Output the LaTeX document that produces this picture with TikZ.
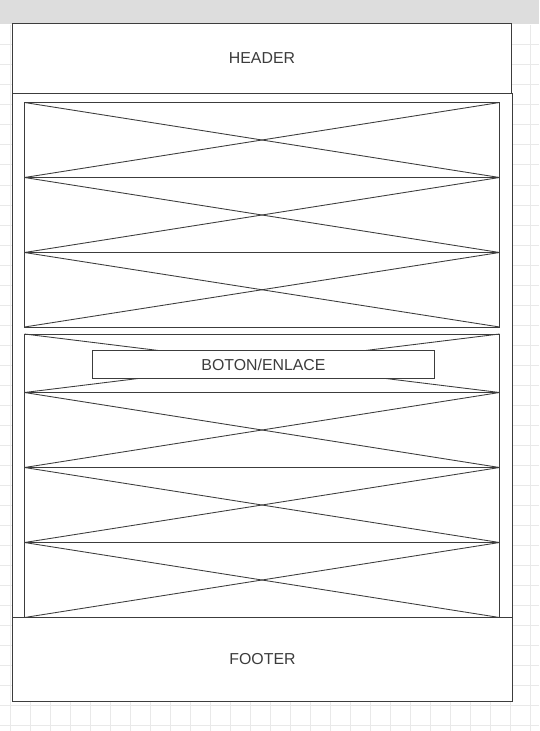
\documentclass[tikz,border=0pt]{standalone}
\usepackage{fontspec}
\setmainfont{Liberation Sans}
\usepackage{xcolor}
\definecolor{bargray}{HTML}{DDDDDD}
\definecolor{gridgray}{HTML}{E9E9E9}
\definecolor{inkgray}{HTML}{3C3C3C}
\tikzset{
  frame/.style={draw=inkgray, line width=0.75pt, fill=white},
  cross/.style={draw=inkgray, line width=0.65pt},
  gridline/.style={draw=gridgray, line width=0.75pt},
  label/.style={text=inkgray, font=\fontsize{11.9pt}{13pt}\selectfont, inner sep=0pt}
}
\begin{document}
\begin{tikzpicture}[x=0.75pt, y=-0.75pt]
\useasboundingbox (0,0) rectangle (539,731);
% background grid
\fill[white] (0,0) rectangle (539,731);
\foreach \gx in {10.7,30.7,...,539} \draw[gridline] (\gx,25) -- (\gx,731);
\foreach \gy in {45,65,...,731} \draw[gridline] (0,\gy) -- (539,\gy);
\fill[bargray] (0,0) rectangle (539,24.5);
% header and body
\draw[frame] (12.5,23.5) rectangle (511.5,93.5);
\draw[frame] (12.5,93.5) rectangle (512.5,617.5);
% first block of images
\draw[frame] (24.5,102.5) rectangle (499.5,177.5);
\draw[cross] (24.5,102.5) -- (499.5,177.5);
\draw[cross] (24.5,177.5) -- (499.5,102.5);
\draw[frame] (24.5,177.5) rectangle (499.5,252.5);
\draw[cross] (24.5,177.5) -- (499.5,252.5);
\draw[cross] (24.5,252.5) -- (499.5,177.5);
\draw[frame] (24.5,252.5) rectangle (499.5,327);
\draw[cross] (24.5,252.5) -- (499.5,327);
\draw[cross] (24.5,327) -- (499.5,252.5);
% second block of images
\draw[frame] (24.5,334) rectangle (499.5,392.5);
\draw[cross] (24.5,334) -- (499.5,392.5);
\draw[cross] (24.5,392.5) -- (499.5,334);
\draw[frame] (24.5,392.5) rectangle (499.5,467.5);
\draw[cross] (24.5,392.5) -- (499.5,467.5);
\draw[cross] (24.5,467.5) -- (499.5,392.5);
\draw[frame] (24.5,467.5) rectangle (499.5,542.5);
\draw[cross] (24.5,467.5) -- (499.5,542.5);
\draw[cross] (24.5,542.5) -- (499.5,467.5);
\draw[frame] (24.5,542.5) rectangle (499.5,617.5);
\draw[cross] (24.5,542.5) -- (499.5,617.5);
\draw[cross] (24.5,617.5) -- (499.5,542.5);
% button
\draw[frame] (92.5,350.5) rectangle (434.5,378.5);
\node[label] (boton) at (263.5,364.5) {BOTON/ENLACE};
% footer
\draw[frame] (12.5,617.5) rectangle (512.5,701.5);
\node[label] (header) at (262,58.5) {HEADER};
\node[label] (footer) at (262.5,659) {FOOTER};
\end{tikzpicture}
\end{document}
